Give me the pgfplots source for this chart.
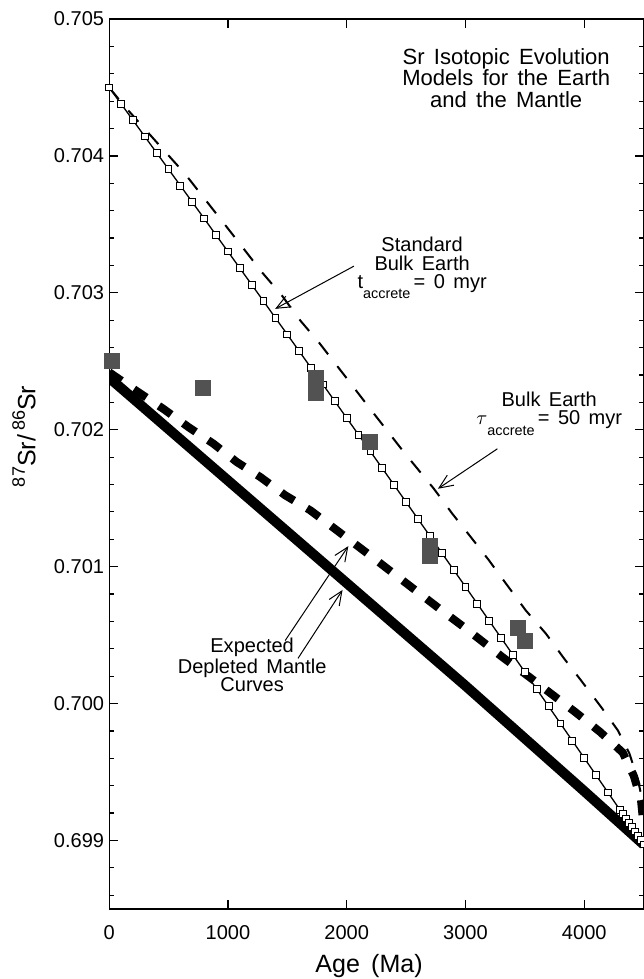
\documentclass[border=0pt]{standalone}
\usepackage{pgfplots}
\pgfplotsset{compat=1.18}
\usepackage{fontspec}
\setmainfont{Liberation Sans}
\usetikzlibrary{arrows.meta,calc}
\definecolor{sqgray}{RGB}{82,82,82}
\newcommand{\s}{\hspace{0.42em}}
\begin{document}
\begin{tikzpicture}
\begin{axis}[
  scale only axis, width=267pt, height=444.5pt,
  xmin=0, xmax=4500, ymin=0.6985, ymax=0.705,
  xtick={0,1000,2000,3000,4000},
  ytick={0.699,0.700,0.701,0.702,0.703,0.704,0.705},
  minor ytick={0.6986,0.6988,0.6992,0.6994,0.6996,0.6998,0.7002,0.7004,0.7006,0.7008,0.7012,0.7014,0.7016,0.7018,0.7022,0.7024,0.7026,0.7028,0.7032,0.7034,0.7036,0.7038,0.7042,0.7044,0.7046,0.7048},
  scaled y ticks=false,
  tick align=inside,
  major tick length=4.5pt, minor tick length=2.5pt,
  tick style={line width=0.6pt, black},
  axis line style={line width=0.6pt},
  /pgf/number format/assume math mode=true,
  ticklabel style={font=\fontsize{10}{10}\selectfont},
  yticklabel style={/pgf/number format/.cd, fixed, fixed zerofill, precision=3, /tikz/.cd, xshift=1pt},
  xticklabel style={/pgf/number format/1000 sep={}, yshift=-4.6pt},
  clip=true,
]
\coordinate (SW) at (rel axis cs:0,0);
\coordinate (NE) at (rel axis cs:1,1);
\coordinate (YL) at (rel axis cs:0,0.531);
\coordinate (XL) at (rel axis cs:0.4863,0);

% depleted mantle, solid thick
\addplot[black, line width=5pt] coordinates {
(0,0.70238) (1000,0.70163) (2000,0.70088) (3000,0.70013) (4000,0.69936) (4500,0.69897)};

% depleted mantle, thick dashed
\addplot[black, line width=4pt, dash pattern=on 7.5pt off 7.5pt] coordinates {
(0,0.70242) (245,0.702275) (456,0.702153) (667,0.70202) (878,0.701898) (1075,0.701764)
(1272,0.701655) (1483,0.701521) (1694,0.701411) (1863,0.701301) (2200,0.70108)
(2500,0.70088) (2800,0.70068) (3000,0.70055) (3316,0.700336) (3544,0.70019)
(3719,0.700073) (3930,0.699934) (4133,0.699793) (4324,0.699642) (4417,0.699472)
(4478,0.699294) (4500,0.69910)};

% bulk earth, tau_accrete = 50 myr (thin dashed)
\addplot[black, line width=1pt, dash pattern=on 7.5pt off 7.5pt] coordinates {
(0,0.70450) (133,0.70436) (388,0.704112) (639,0.703869) (1000,0.70347) (1286,0.703151)
(1455,0.70298) (1609,0.702798) (1764,0.70264) (2000,0.702376) (2200,0.70215)
(2481,0.701837) (2734,0.701569) (2889,0.701387) (3044,0.701217) (3198,0.701046)
(3269,0.700961) (3508,0.70068) (3677,0.700511) (3831,0.700328) (3972,0.70017)
(4141,0.699976) (4282,0.699805) (4380,0.699635) (4450,0.69945) (4500,0.69925)};

% standard bulk earth, t_accrete = 0
\addplot[black, line width=0.65pt, mark=square*, mark size=1.7pt,
  mark options={fill=white, draw=black, line width=0.5pt, solid}] coordinates {
(0,0.704500) (100,0.704381) (200,0.704262) (300,0.704142) (400,0.704023) (500,0.703903)
(600,0.703783) (700,0.703663) (800,0.703543) (900,0.703422) (1000,0.703302)
(1100,0.703181) (1200,0.703060) (1300,0.702939) (1400,0.702817) (1500,0.702696)
(1600,0.702574) (1700,0.702452) (1800,0.702331) (1900,0.702208) (2000,0.702086)
(2100,0.701963) (2200,0.701841) (2300,0.701718) (2400,0.701595) (2500,0.701472)
(2600,0.701348) (2700,0.701225) (2800,0.701101) (2900,0.700977) (3000,0.700853)
(3100,0.700729) (3200,0.700604) (3300,0.700480) (3400,0.700355) (3500,0.700230)
(3600,0.700105) (3700,0.699980) (3800,0.699854) (3900,0.699728) (4000,0.699602)
(4100,0.699476) (4200,0.699350) (4300,0.699224) (4325,0.699192) (4350,0.699161)
(4375,0.699129) (4400,0.699097) (4425,0.699066) (4450,0.699034) (4475,0.699003)
(4500,0.698971)};

% data: grey squares
\addplot[only marks, mark=square*, mark size=3.75pt, color=sqgray,
  mark options={draw=sqgray, fill=sqgray}] coordinates {
(20,0.70250) (787,0.702307) (1743,0.70238) (1743,0.70232) (1743,0.70227)
(2194,0.701912) (2698,0.70115) (2698,0.701077) (3445,0.700555) (3500,0.700456)};

% annotations
\node[align=center, font=\fontsize{11}{10.8}\selectfont] at (axis cs:3343,0.70457)
  {Sr\s Isotopic\s Evolution\\Models\s for\s the\s Earth\\and\s the\s Mantle};

\node[align=center, font=\fontsize{10}{9.2}\selectfont] at (axis cs:2635,0.70318)
  {Standard\\Bulk\s Earth\\t\raisebox{-5pt}{\fontsize{7.2}{7}\selectfont accrete}\,=\s0\s myr};
\draw[-{Straight Barb[length=7pt,width=6pt]}, line width=0.5pt]
  (axis cs:2061,0.703195) -- (axis cs:1398,0.702883);

\node[align=center, font=\fontsize{10}{9.2}\selectfont] at (axis cs:3705,0.702117)
  {Bulk\s Earth\\$\tau$\raisebox{-5.5pt}{\fontsize{7.2}{7}\selectfont accrete}\,=\s50\s myr};
\draw[-{Straight Barb[length=7pt,width=6pt]}, line width=0.5pt]
  (axis cs:3269,0.701861) -- (axis cs:2768,0.701569);

\node[align=center, font=\fontsize{10}{9.2}\selectfont] at (axis cs:1204,0.70028)
  {Expected\\Depleted\s Mantle\\Curves};
\draw[-{Straight Barb[length=7pt,width=6pt]}, line width=0.5pt]
  (axis cs:1482,0.70046) -- (axis cs:2014,0.70115);
\draw[-{Straight Barb[length=7pt,width=6pt]}, line width=0.5pt]
  (axis cs:1590,0.70033) -- (axis cs:1965,0.70083);
\end{axis}
\node[rotate=90, font=\fontsize{12.5}{12.5}\selectfont] at ($(YL)+(-42.5pt,0)$)
  {\raisebox{0.8ex}{\fontsize{9}{9}\selectfont 87}Sr/\,\raisebox{0.8ex}{\fontsize{9}{9}\selectfont 86}Sr};
\node[font=\fontsize{12.5}{12.5}\selectfont] at ($(XL)+(0,-28.5pt)$) {Age\hspace{0.45em}(Ma)};
\pgfresetboundingbox
\path[use as bounding box] ($(SW)+(-54.5pt,-35pt)$) rectangle ($(NE)+(0,9.5pt)$);
\end{tikzpicture}
\end{document}
